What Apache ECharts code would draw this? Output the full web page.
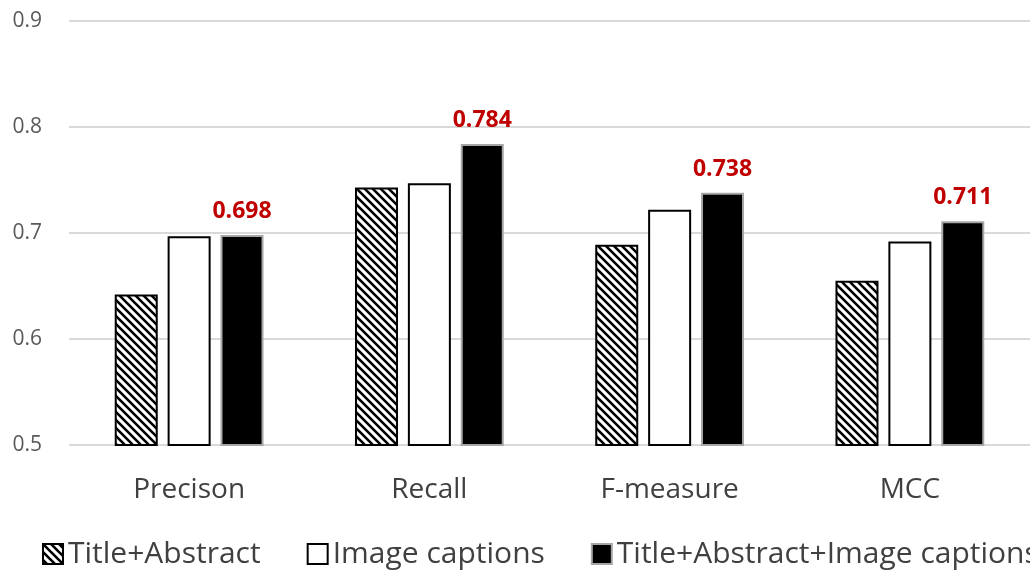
<!DOCTYPE html>
<html><head><meta charset="utf-8">
<script src="https://cdn.jsdelivr.net/npm/echarts@6/dist/echarts.min.js"></script>
<style>html,body{margin:0;padding:0;background:#fff}#c{width:1030px;height:573px}</style>
</head><body><div id="c"></div>
<script>
const categories = ['Precison', 'Recall', 'F-measure', 'MCC'];
const seriesNames = ['Title+Abstract', 'Image captions', 'Title+Abstract+Image captions'];
const titleAbstract = [0.642, 0.743, 0.689, 0.655];
const imageCaptions = [0.697, 0.747, 0.722, 0.692];
const combined = [0.698, 0.784, 0.738, 0.711];
const yTicks = [0.5, 0.6, 0.7, 0.8, 0.9];

function hatch() {
  const c = document.createElement('canvas');
  c.width = 8; c.height = 8;
  const g = c.getContext('2d');
  g.fillStyle = '#fff'; g.fillRect(0, 0, 8, 8);
  g.strokeStyle = '#000'; g.lineWidth = 2.6;
  g.beginPath();
  g.moveTo(-2, -2); g.lineTo(10, 10);
  g.moveTo(-2, 6); g.lineTo(2, 10);
  g.moveTo(6, -2); g.lineTo(10, 2);
  g.stroke();
  return { image: c, repeat: 'repeat' };
}
const hatchFill = hatch();
const font = 'Open Sans, sans-serif';

const chart = echarts.init(document.getElementById('c'));
chart.setOption({
  animation: false,
  grid: { left: 69, top: 21, width: 968, height: 424 },
  legend: {
    top: 539, left: 42, width: 1400, padding: 0, icon: 'rect', itemWidth: 20, itemHeight: 20, itemGap: 46,
    textStyle: { fontFamily: font, fontSize: 30, color: '#404040' },
    data: seriesNames
  },
  xAxis: {
    type: 'category', data: categories,
    axisLine: { show: false }, axisTick: { show: false },
    axisLabel: { fontFamily: font, fontSize: 28, color: '#404040', margin: 31 }
  },
  yAxis: {
    type: 'value', min: 0.5, max: 0.9, interval: 0.1,
    axisLabel: { fontFamily: font, fontSize: 21, color: '#595959', margin: 27,
      formatter: v => yTicks.includes(Math.round(v * 10) / 10) ? v.toFixed(1) : '' },
    splitLine: { lineStyle: { color: '#d9d9d9', width: 2 } },
    axisLine: { show: false }, axisTick: { show: false }
  },
  series: [
    { name: seriesNames[0], type: 'bar', data: titleAbstract, barWidth: 43, barGap: '23%',
      itemStyle: { color: hatchFill, borderColor: '#000', borderWidth: 2 } },
    { name: seriesNames[1], type: 'bar', data: imageCaptions, barWidth: 43, barGap: '23%',
      itemStyle: { color: '#fff', borderColor: '#000', borderWidth: 2 } },
    { name: seriesNames[2], type: 'bar', data: combined, barWidth: 43, barGap: '23%',
      itemStyle: { color: '#000', borderColor: '#a6a6a6', borderWidth: 2 },
      label: { show: true, position: 'top', distance: 12, color: '#C00000', fontWeight: 'bold',
        fontFamily: font, fontSize: 23, formatter: p => p.value.toFixed(3) } }
  ]
});
</script></body></html>
